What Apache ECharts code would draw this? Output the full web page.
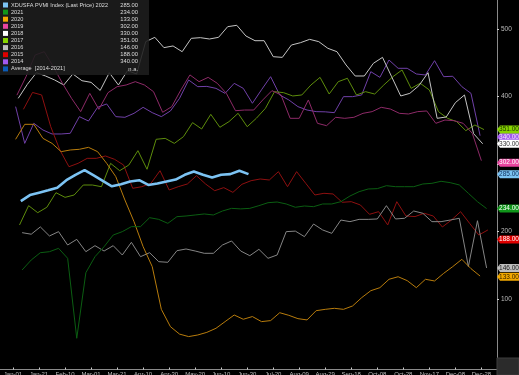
<!DOCTYPE html>
<html>
<head>
<meta charset="utf-8">
<script src="https://cdn.jsdelivr.net/npm/echarts@6/dist/echarts.min.js"></script>
<style>html,body{margin:0;padding:0;background:#000;}#c{width:519px;height:375px;}</style>
</head>
<body>
<div id="c"></div>
<script>
// ---- data (weekly values) ----
const xTickLabels = ['Jan-01','Jan-21','Feb-10','Mar-01','Mar-21','Apr-10','Apr-30','May-20','Jun-10','Jun-30','Jul-20','Aug-09','Aug-29','Sep-18','Oct-08','Oct-28','Nov-17','Dec-08','Dec-28'];
const seriesNames = ['XDUSFA PVMI Index (Last Price) 2022','2021','2020','2019','2018','2017','2016','2015','2014','Average  [2014-2021]'];
const lastPrices = [285, 234, 133, 302, 330, 351, 146, 188, 340, null];
// first weekly observation, as day of year
const startDays = [6, 7, 2, 3, 4, 5, 7, 8, 2];

const v2022 = [245,254,257.5,261,265,276,284,291,283,275,267,270,274,276,269,271,274,277,284,289,284,280,284,285,290,285];
const v2021 = [143,157.8,168.6,170.1,175.1,160.3,41.8,139,162.7,177.5,194.8,199.8,207.2,207.2,220.5,218,212.1,222,223,224.5,226,224.5,230.4,234.3,233.5,234.3,238.3,
  242.7,243.7,240.8,235.9,237.8,236.8,240.8,240.8,244.2,252.6,259,263,263.5,267.9,266.4,266.4,266.4,270.4,271.4,274.4,272.4,269,
  256.6,244.2,234];
const v2020 = [336.6,358.8,358.8,338,330.6,318.3,320.8,321.8,324.7,318.3,301,281.3,246.7,214.6,177.6,148,84.7,59,48,44.3,46.7,50.6,56.6,66.5,76.3,70,74,66.5,
  68,79.7,75.8,70.9,69,82.7,84.7,86.2,84.7,89.7,102,112.3,116.8,129.2,133,127.2,116.8,129.2,126.7,138,148,158.8,
  145,134];
const v2019 = [402,429.4,461.5,466.4,444.2,419.6,397.3,377.6,404.7,381,405.7,414.6,417.1,422,417.1,407.2,376.6,385,409.7,432,422,428.4,419.6,404.7,379,380,380,395,
  408.7,402.3,367.7,367.7,394.9,360.3,356.8,369.2,367.7,369.2,375.1,377.6,384,381.5,375.1,374.1,377.6,378.6,360.3,365.2,364.2,360.3,
  345.5,305];
const v2018 = [397.3,418,435.3,430.4,424.5,417.1,433.4,423.4,421,409,435.3,417.1,438.3,433.4,481.3,487.7,472.4,474.9,466.4,486.2,487.2,485.2,487.7,503.5,505.5,489.7,482.7,
  482.7,459,458,476.3,479.8,484.7,481.3,471.4,466.4,446.7,430.4,430.4,449.2,458,429.4,400.8,404.7,416.1,
  435.3,367.7,369.7,390.9,402.3,345,330];
const v2017 = [209.7,238.3,227.9,235.9,257.5,250.6,254.1,268.9,268.9,266.4,301,290.1,298.5,319.8,292.2,336.6,338,330.6,340.5,361.3,351.9,373.6,354.4,362.8,375.1,355.3,367.7,
  382.5,407.2,405.7,400.8,402.3,417.1,428.4,403.7,422,427,402.3,407.2,403.7,417.1,429.4,439.3,412.1,419.6,409.7,377.6,367.7,362.8,
  349.4,357.8,351];
const v2016 = [198.3,196,206.8,193.4,199.8,180,188.4,170.1,179,171.1,179,165.2,184,162.7,168.6,155.3,154.4,171.6,174.1,171.1,167.7,167.7,180,186,171.1,164.2,173.6,
  160.3,165.2,199.8,200.6,192.4,211.1,202.3,197.3,217,214.6,218,218,218.6,238.3,218.6,219.6,230.4,227,214.6,214.6,217,219.6,
  148,216,146];
const v2015 = [381,406,402.3,355.3,320.8,296,301,308.4,308.4,311.9,307,298.5,264,266.4,271.4,290.1,261.5,266.4,270.4,282.7,270.4,260.5,265,258,270,275.3,277.8,
  276.3,288.7,266.4,288.7,271.4,254.1,256.6,255.6,243.3,244.2,239.3,225.5,229.4,209.7,244.2,223,222.1,227,223,206.7,217,229.4,
  212,194.8,202.3];
const v2014 = [385,330.6,360.3,350.4,344.5,344.5,345.5,370.2,363.7,384,389,370.2,369.2,375.1,384,376.1,370.2,378.6,397.3,424.5,414.6,415,412.1,404.7,419.5,412.1,390,410,
  429.4,402.3,394.9,385,380,377.6,377.3,376.1,399.8,399.8,402.3,436.8,428.4,454.1,441.8,441.8,433.4,431.9,453.1,429.4,430,414.6,
  404.7,342];

const yearValues = [v2022, v2021, v2020, v2019, v2018, v2017, v2016, v2015, v2014];

// ---- styles ----
const lineColors   = ['#7cc3f3','#0b5e12','#b87c0c','#8e2a68','#c4c4c4','#5e8d0c','#858585','#8e1010','#7040a8','#0b5cb8'];
const legendColors = ['#7cc3f3','#10951a','#f2a900','#e8459f','#ffffff','#86d400','#bdbdbd','#e00000','#a259f0','#0b5cb8'];
const tagText      = ['#0d2d5a','#ffffff','#2e1c00','#ffffff','#333333','#1d3000','#1a1a1a','#ffffff','#f4e0ff',''];
const FONT = "'Liberation Sans', sans-serif";

const X_MIN = -10, X_MAX = 372;

const series = [];
// draw older years first, 2022 last (on top)
const order = [8,7,6,5,4,3,2,1,0];
order.forEach(i => {
  const data = yearValues[i].map((v, k) => [startDays[i] + 7 * k, v]);
  series.push({
    name: seriesNames[i],
    type: 'line',
    data: data,
    symbol: 'none',
    z: i === 0 ? 5 : 2,
    lineStyle: { width: i === 0 ? 2.6 : 1, color: lineColors[i] },
    itemStyle: { color: lineColors[i] },
    emphasis: { disabled: true },
    markPoint: {
      silent: true,
      symbol: 'path://M0,4 L3,0 L22,0 L22,8 L3,8 Z',
      symbolSize: [22, 8],
      symbolOffset: ['50%', 0],
      symbolKeepAspect: false,
      itemStyle: { color: legendColors[i] },
      label: {
        show: true, position: 'inside', offset: [1, 0],
        fontSize: 6.5, fontFamily: FONT, color: tagText[i],
        formatter: () => lastPrices[i].toFixed(2)
      },
      data: [{ coord: [X_MAX, lastPrices[i]] }]
    }
  });
});
series.push({ name: seriesNames[9], type: 'line', data: [], symbol: 'none', itemStyle: { color: legendColors[9] }, lineStyle: { color: lineColors[9] } });

const chart = echarts.init(document.getElementById('c'), null, { renderer: 'canvas' });
chart.setOption({
  animation: false,
  backgroundColor: '#000000',
  grid: { left: 0, right: 22, top: 0, bottom: 8.5, containLabel: false, outerBoundsMode: 'none' },
  legend: {
    left: 0, top: 0, orient: 'vertical',
    selectedMode: false,
    backgroundColor: 'rgba(30,30,30,0.88)',
    padding: [2, 11, 3, 3],
    itemWidth: 5, itemHeight: 5, itemGap: 1.1,
    icon: 'rect',
    data: seriesNames.map((n, i) => ({ name: n, itemStyle: { color: legendColors[i] } })),
    formatter: name => {
      const i = seriesNames.indexOf(name);
      const val = lastPrices[i] == null ? 'n.a.' : lastPrices[i].toFixed(2);
      return '{n|' + name + '}{v|' + val + '}';
    },
    textStyle: {
      color: '#dcdcdc', fontSize: 5.6, lineHeight: 6, fontFamily: FONT, padding: [0, 0, 0, -2],
      rich: {
        n: { width: 107, fontSize: 5.6, lineHeight: 6, color: '#dcdcdc', fontFamily: FONT },
        v: { width: 20, align: 'right', fontSize: 5.8, lineHeight: 6, color: '#dcdcdc', fontFamily: FONT }
      }
    }
  },
  xAxis: {
    type: 'value', min: X_MIN, max: X_MAX, offset: 3,
    axisLine: { show: true, onZero: false, lineStyle: { color: '#8a8a8a', width: 1 } },
    splitLine: { show: false },
    axisTick: { show: true, inside: true, length: 2, customValues: xTickLabels.map((_, i) => i * 20), lineStyle: { color: '#cfcfcf' } },
    axisLabel: {
      customValues: xTickLabels.map((_, i) => i * 20),
      formatter: v => xTickLabels[Math.round(v / 20)] || '',
      fontSize: 6, color: '#bdbdbd', margin: 2, fontFamily: FONT
    }
  },
  yAxis: {
    type: 'value', position: 'right', min: 0, max: 543, interval: 100,
    axisLine: { show: true, onZero: false, lineStyle: { color: '#8a8a8a', width: 1 } },
    axisTick: { show: true, length: 2, lineStyle: { color: '#cfcfcf' } },
    splitLine: { show: false },
    axisLabel: { fontSize: 6.5, color: '#bdbdbd', margin: 4, showMaxLabel: false, showMinLabel: false, fontFamily: FONT }
  },
  graphic: [
    { type: 'rect', shape: { x: 497, y: 358, width: 22, height: 17 }, style: { fill: '#2b2b2b', stroke: '#3c3c3c' }, z: 100 }
  ],
  series: series
});
</script>
</body>
</html>
